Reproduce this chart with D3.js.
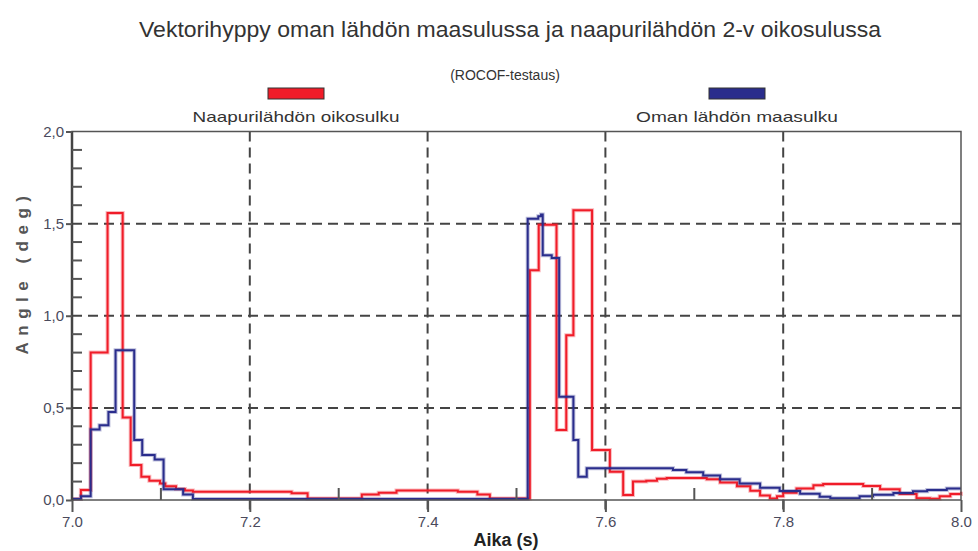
<!DOCTYPE html>
<html>
<head>
<meta charset="utf-8">
<script src="https://cdn.jsdelivr.net/npm/d3@7"></script>
<style>
  body { margin: 0; background: #fff; }
  svg { display: block; }
  text { font-family: "Liberation Sans", Arial, sans-serif; }
</style>
</head>
<body>
<div id="chart"></div>
<script>
// chart texts
var title = "Vektorihyppy oman lähdön maasulussa ja naapurilähdön 2-v oikosulussa";
var subtitle = "(ROCOF-testaus)";
var seriesNames = ["Naapurilähdön oikosulku", "Oman lähdön maasulku"];
var seriesColors = ["#f01c28", "#2a2d8c"];

// tick labels
var xTicks = [7.0, 7.2, 7.4, 7.6, 7.8, 8.0];
var xTickLabels = ["7.0", "7.2", "7.4", "7.6", "7.8", "8.0"];
var yTicks = [0, 0.5, 1.0, 1.5, 2.0];
var yTickLabels = ["0,0", "0,5", "1,0", "1,5", "2,0"];

// red: neighbour feeder short circuit (step values, value holds until next time)
var redT = [7.000, 7.010, 7.021, 7.040, 7.057, 7.066, 7.078, 7.087, 7.099, 7.105, 7.117, 7.127, 7.136,
            7.247, 7.265, 7.326, 7.345, 7.365, 7.434, 7.456, 7.470,
            7.515, 7.525, 7.545, 7.556, 7.564, 7.585, 7.605, 7.620, 7.631,
            7.646, 7.658, 7.669, 7.703, 7.714, 7.729, 7.748, 7.763, 7.774, 7.785, 7.793, 7.800,
            7.815, 7.834, 7.845, 7.879, 7.890, 7.909, 7.931, 7.950, 7.965, 7.976, 7.988, 8.000];
var redV = [0.005, 0.054, 0.80, 1.557, 0.448, 0.19, 0.126, 0.105, 0.09, 0.075, 0.06, 0.052, 0.045,
            0.037, 0.008, 0.03, 0.04, 0.052, 0.045, 0.03, 0.008,
            1.247, 1.494, 0.38, 0.894, 1.572, 0.271, 0.153, 0.027, 0.10,
            0.105, 0.115, 0.12, 0.12, 0.113, 0.095, 0.074, 0.05, 0.024, 0.008, 0.02, 0.04,
            0.063, 0.08, 0.087, 0.087, 0.076, 0.058, 0.032, 0.01, 0.007, 0.02, 0.033, 0.045];

// blue: own feeder earth fault
var blueT = [7.000, 7.010, 7.021, 7.031, 7.041, 7.049, 7.070, 7.079, 7.093, 7.103, 7.125, 7.136,
             7.5126, 7.5245, 7.5276, 7.5295, 7.5396, 7.548, 7.564, 7.5695, 7.579,
             7.663, 7.676, 7.691, 7.710, 7.729, 7.751, 7.774, 7.796, 7.819, 7.841, 7.853, 7.879,
             7.886, 7.901, 7.924, 7.946, 7.962, 7.984, 8.000];
var blueV = [0.005, 0.02, 0.383, 0.406, 0.478, 0.813, 0.325, 0.244, 0.22, 0.058, 0.03, 0.005,
             1.527, 1.54, 1.55, 1.328, 1.313, 0.56, 0.325, 0.126, 0.172,
             0.172, 0.163, 0.15, 0.133, 0.112, 0.089, 0.067, 0.049, 0.034, 0.018, 0.01, 0.01,
             0.02, 0.029, 0.038, 0.047, 0.054, 0.063, 0.063];

var width = 978, height = 551;
var plotL = 72, plotR = 961, plotT = 131.5, plotB = 500;
var gridColor = "#444";

var svg = d3.select("#chart").append("svg")
    .attr("width", width)
    .attr("height", height);

var x = d3.scaleLinear().domain([7, 8]).range([plotL, plotR]);
var y = d3.scaleLinear().domain([0, 2]).range([plotB, plotT]);

// titles
svg.append("text")
    .attr("x", 510).attr("y", 37)
    .attr("text-anchor", "middle")
    .attr("font-size", 22)
    .attr("fill", "#333")
    .attr("textLength", 742)
    .attr("lengthAdjust", "spacingAndGlyphs")
    .text(title);

svg.append("text")
    .attr("x", 505).attr("y", 80)
    .attr("text-anchor", "middle")
    .attr("font-size", 14)
    .attr("fill", "#333")
    .text(subtitle);

// legend
var legendX = [296, 737];
seriesNames.forEach(function(name, i) {
    svg.append("rect")
        .attr("x", legendX[i] - 28).attr("y", 88)
        .attr("width", 56).attr("height", 11)
        .attr("fill", seriesColors[i])
        .attr("stroke", "#333")
        .attr("stroke-width", 1);
    svg.append("text")
        .attr("x", legendX[i]).attr("y", 122)
        .attr("text-anchor", "middle")
        .attr("font-size", 15)
        .attr("fill", "#333")
        .attr("textLength", i === 0 ? 207 : 202)
        .attr("lengthAdjust", "spacingAndGlyphs")
        .text(name);
});

// dashed grid
var grid = svg.append("g").attr("stroke", gridColor).attr("stroke-width", 2).attr("stroke-dasharray", "10,6");
grid.selectAll("line.v").data([7.2, 7.4, 7.6, 7.8]).enter().append("line")
    .attr("x1", function(d) { return x(d); }).attr("x2", function(d) { return x(d); })
    .attr("y1", plotT).attr("y2", plotB + 12);
grid.selectAll("line.h").data([0.5, 1.0, 1.5]).enter().append("line")
    .attr("x1", plotL).attr("x2", plotR)
    .attr("y1", function(d) { return y(d); }).attr("y2", function(d) { return y(d); });

// series lines
var line = d3.line()
    .x(function(d) { return x(d[0]); })
    .y(function(d) { return y(d[1]); })
    .curve(d3.curveStepAfter);

var redData = d3.zip(redT, redV);
var blueData = d3.zip(blueT, blueV);

[redData, blueData].forEach(function(data, i) {
    svg.append("path")
        .datum(data)
        .attr("fill", "none")
        .attr("stroke", seriesColors[i])
        .attr("stroke-opacity", 0.3)
        .attr("stroke-width", 4)
        .attr("d", line);
    svg.append("path")
        .datum(data)
        .attr("fill", "none")
        .attr("stroke", seriesColors[i])
        .attr("stroke-width", 2)
        .attr("d", line);
});

// frame
svg.append("rect")
    .attr("x", plotL).attr("y", plotT)
    .attr("width", plotR - plotL).attr("height", plotB - plotT)
    .attr("fill", "none")
    .attr("stroke", "#555")
    .attr("stroke-width", 1.5);
svg.append("line")
    .attr("x1", plotL).attr("x2", plotL).attr("y1", plotT).attr("y2", plotB + 1)
    .attr("stroke", "#444").attr("stroke-width", 2.5);

// x axis: major ticks below, minor ticks inside
var xAxis = d3.axisBottom(x)
    .tickValues(xTicks)
    .tickSize(12)
    .tickPadding(4)
    .tickFormat(function(d, i) { return xTickLabels[i]; });
var gx = svg.append("g")
    .attr("transform", "translate(0," + plotB + ")")
    .call(xAxis);
gx.select(".domain").remove();
gx.selectAll("line").attr("stroke", "#555").attr("stroke-width", 2);
gx.selectAll("text").attr("font-size", 15).attr("fill", "#4a4a5c")
    .attr("font-family", "'Liberation Sans', Arial, sans-serif");

svg.append("g").selectAll("line").data([7.1, 7.3, 7.5, 7.7, 7.9]).enter().append("line")
    .attr("x1", function(d) { return x(d); }).attr("x2", function(d) { return x(d); })
    .attr("y1", plotB).attr("y2", plotB - 12)
    .attr("stroke", "#555").attr("stroke-width", 2);

// y axis: major ticks outside, minor ticks inside
var yAxis = d3.axisLeft(y)
    .tickValues(yTicks)
    .tickSize(6)
    .tickPadding(2)
    .tickFormat(function(d, i) { return yTickLabels[i]; });
var gy = svg.append("g")
    .attr("transform", "translate(" + plotL + ",0)")
    .call(yAxis);
gy.select(".domain").remove();
gy.selectAll("line").attr("stroke", "#555").attr("stroke-width", 2);
gy.selectAll("text").attr("font-size", 15).attr("fill", "#4a4a5c")
    .attr("font-family", "'Liberation Sans', Arial, sans-serif");

var minorY = d3.range(1, 20).map(function(i) { return i / 10; }).filter(function(d) { return Math.round(d * 10) % 5 !== 0; });
svg.append("g").selectAll("line").data(minorY).enter().append("line")
    .attr("x1", plotL).attr("x2", plotL + 10)
    .attr("y1", function(d) { return y(d); }).attr("y2", function(d) { return y(d); })
    .attr("stroke", "#555").attr("stroke-width", 2);

// axis titles
svg.append("text")
    .attr("transform", "translate(28,272) rotate(-90)")
    .attr("text-anchor", "middle")
    .attr("font-size", 17)
    .attr("font-weight", "bold")
    .attr("fill", "#555")
    .attr("letter-spacing", 6.5)
    .text("Angle (deg)");

svg.append("text")
    .attr("x", 506).attr("y", 546)
    .attr("text-anchor", "middle")
    .attr("font-size", 18)
    .attr("font-weight", "bold")
    .attr("font-family", "'Liberation Serif', serif")
    .attr("fill", "#222")
    .text("Aika (s)");
</script>
</body>
</html>
